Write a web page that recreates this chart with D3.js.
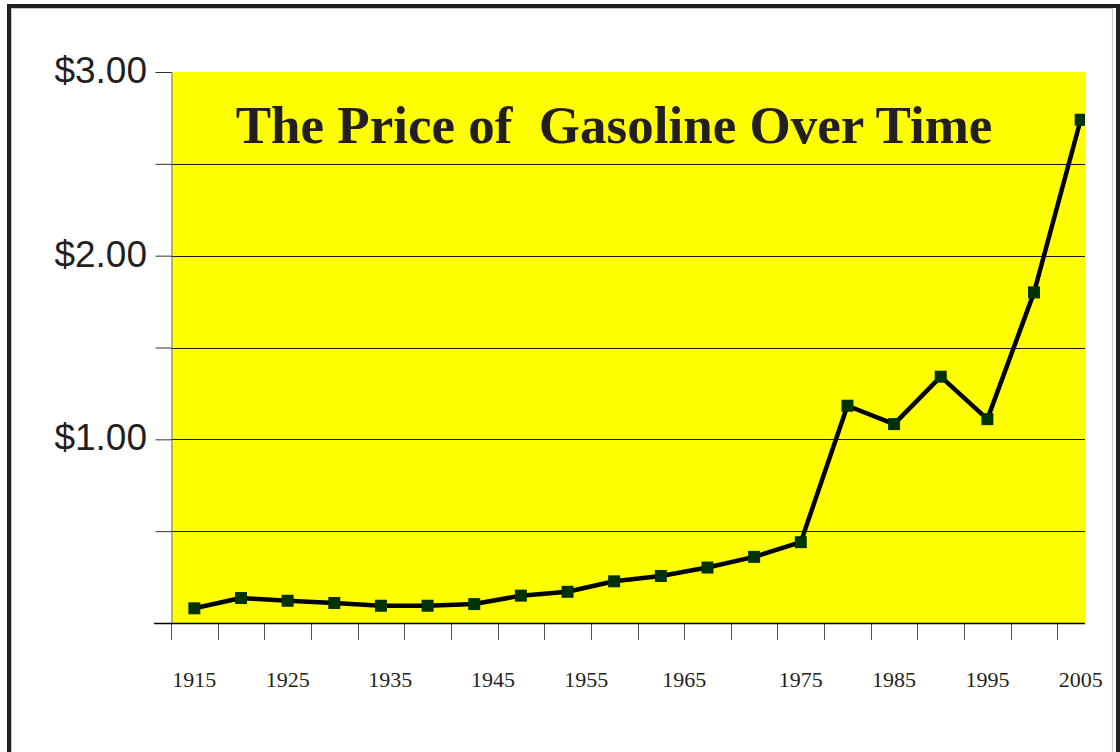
<!DOCTYPE html>
<html>
<head>
<meta charset="utf-8">
<script src="https://cdn.jsdelivr.net/npm/d3@7"></script>
<style>
    html, body { margin: 0; padding: 0; background: #ffffff; }
    svg { display: block; }
</style>
</head>
<body>
<div id="chart"></div>
<script>
"use strict";

// point categories (years of each price sample)
var years = [1915, 1920, 1925, 1930, 1934, 1939, 1943, 1948, 1953, 1958,
             1963, 1967, 1971, 1975, 1980, 1985, 1990, 1995, 2000, 2005];

// price per gallon, dollars
var prices = [0.08, 0.136, 0.121, 0.109, 0.094, 0.094, 0.103, 0.149, 0.17, 0.227,
              0.256, 0.302, 0.36, 0.44, 1.183, 1.083, 1.341, 1.11, 1.80, 2.74];

// tick labels
var yearLabels = [1915, 1925, 1935, 1945, 1955, 1965, 1975, 1985, 1995, 2005];
var priceTicks = [0, 0.5, 1, 1.5, 2, 2.5, 3];
var priceLabels = [1, 2, 3];

var width = 1120;
var height = 752;

// plot area
var plot = { left: 171, top: 72, right: 1085, bottom: 623 };
var bandWidth = 46.65;
var textColor = '#231f20';

var svg = d3.select('#chart').append('svg')
    .attr('width', width)
    .attr('height', height);

// outer frame
svg.append('rect')
    .attr('x', 9).attr('y', 6)
    .attr('width', 1109).attr('height', 800)
    .attr('fill', 'none')
    .attr('stroke', textColor)
    .attr('stroke-width', 4);

svg.append('rect')
    .attr('x', 11.5).attr('y', 8.5)
    .attr('width', 1101).attr('height', 800)
    .attr('fill', 'none')
    .attr('stroke', '#c8c8c8')
    .attr('stroke-width', 1);

// xScale: category bands, ticks sit on the band edges
var xScale = d3.scaleBand()
    .domain(years)
    .range([plot.left, plot.left + bandWidth * years.length])
    .padding(0);

var xCenter = function (d) { return xScale(d) + xScale.bandwidth() / 2; };

// year labels are placed between the samples
var yearPos = d3.scaleLinear()
    .domain(years)
    .range(years.map(xCenter));

//yScale
var yScale = d3.scaleLinear()
    .domain([0, 3])
    .range([plot.bottom, plot.top]);

// yellow background
svg.append('rect')
    .attr('x', plot.left)
    .attr('y', plot.top)
    .attr('width', plot.right - plot.left)
    .attr('height', plot.bottom - plot.top)
    .attr('fill', '#ffff00');

svg.append('clipPath')
    .attr('id', 'plotClip')
    .append('rect')
    .attr('x', plot.left)
    .attr('y', plot.top - 10)
    .attr('width', plot.right - plot.left)
    .attr('height', plot.bottom - plot.top + 20);

// gridlines
svg.append('g')
    .selectAll('line')
    .data(priceTicks.filter(function (d) { return d > 0 && d < 3; }))
    .enter()
    .append('line')
    .attr('x1', plot.left)
    .attr('x2', plot.right)
    .attr('y1', function (d) { return Math.round(yScale(d)) + 0.5; })
    .attr('y2', function (d) { return Math.round(yScale(d)) + 0.5; })
    .attr('stroke', '#1a1a00')
    .attr('stroke-width', 1);

// y axis
var yAxis = d3.axisLeft(yScale)
    .tickValues(priceTicks)
    .tickSize(16)
    .tickFormat('');

var yAxisG = svg.append('g')
    .attr('transform', 'translate(' + (plot.left + 0.5) + ',0)')
    .call(yAxis);

yAxisG.select('.domain').attr('stroke', '#777');
yAxisG.selectAll('.tick line').attr('stroke', '#333');

svg.append('g')
    .selectAll('text')
    .data(priceLabels)
    .enter()
    .append('text')
    .attr('x', 147)
    .attr('y', function (d) { return yScale(d); })
    .attr('dy', '0.3em')
    .attr('text-anchor', 'end')
    .attr('font-family', '"Liberation Sans", Arial, sans-serif')
    .attr('font-size', 37)
    .attr('fill', textColor)
    .text(function (d) { return d3.format('$.2f')(d); });

// x axis ticks at band edges
svg.append('g')
    .selectAll('line')
    .data(years)
    .enter()
    .append('line')
    .attr('x1', function (d) { return Math.round(xScale(d)) + 0.5; })
    .attr('x2', function (d) { return Math.round(xScale(d)) + 0.5; })
    .attr('y1', plot.bottom)
    .attr('y2', plot.bottom + 17)
    .attr('stroke', '#555')
    .attr('stroke-width', 1);

// x axis line
svg.append('line')
    .attr('x1', 154)
    .attr('x2', plot.right)
    .attr('y1', plot.bottom + 0.5)
    .attr('y2', plot.bottom + 0.5)
    .attr('stroke', '#000')
    .attr('stroke-width', 1.5);

svg.append('g')
    .selectAll('text')
    .data(yearLabels)
    .enter()
    .append('text')
    .attr('x', function (d) { return yearPos(d); })
    .attr('y', 687)
    .attr('text-anchor', 'middle')
    .attr('font-family', '"Liberation Serif", "Times New Roman", serif')
    .attr('font-size', 22)
    .attr('fill', textColor)
    .text(function (d) { return d; });

// price line
var line = d3.line()
    .x(function (d, i) { return xCenter(years[i]); })
    .y(function (d) { return yScale(d); });

var series = svg.append('g')
    .attr('clip-path', 'url(#plotClip)');

series.append('path')
    .datum(prices)
    .attr('d', line)
    .attr('fill', 'none')
    .attr('stroke', '#000')
    .attr('stroke-width', 4.5)
    .attr('stroke-linejoin', 'round');

var markerSize = 12;

series.selectAll('.marker')
    .data(prices)
    .enter()
    .append('rect')
    .attr('class', 'marker')
    .attr('x', function (d, i) { return xCenter(years[i]) - markerSize / 2; })
    .attr('y', function (d) { return yScale(d) - markerSize / 2; })
    .attr('width', markerSize)
    .attr('height', markerSize)
    .attr('fill', '#013301');

// title
svg.append('text')
    .attr('x', 614)
    .attr('y', 143)
    .attr('text-anchor', 'middle')
    .attr('font-family', '"Liberation Serif", "Times New Roman", serif')
    .attr('font-weight', 'bold')
    .attr('font-size', 53)
    .attr('fill', textColor)
    .style('white-space', 'pre')
    .text('The Price of  Gasoline Over Time');
</script>
</body>
</html>
